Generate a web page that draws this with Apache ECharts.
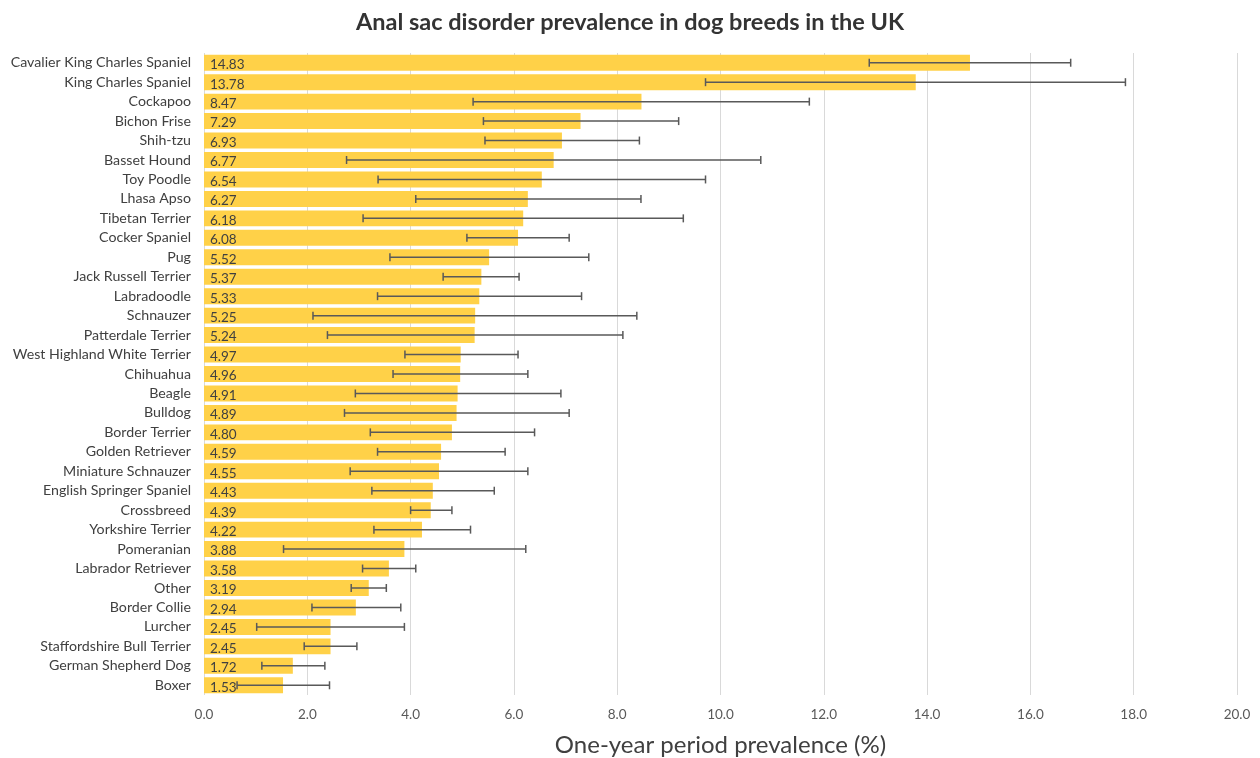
<!DOCTYPE html>
<html>
<head>
<meta charset="utf-8">
<script src="https://cdn.jsdelivr.net/npm/echarts@6/dist/echarts.min.js"></script>
<style>html,body{margin:0;padding:0;background:#fff}#c{width:1260px;height:758px}</style>
</head>
<body>
<div id="c"></div>
<script>
const categories = ["Cavalier King Charles Spaniel","King Charles Spaniel","Cockapoo","Bichon Frise","Shih-tzu","Basset Hound","Toy Poodle","Lhasa Apso","Tibetan Terrier","Cocker Spaniel","Pug","Jack Russell Terrier","Labradoodle","Schnauzer","Patterdale Terrier","West Highland White Terrier","Chihuahua","Beagle","Bulldog","Border Terrier","Golden Retriever","Miniature Schnauzer","English Springer Spaniel","Crossbreed","Yorkshire Terrier","Pomeranian","Labrador Retriever","Other","Border Collie","Lurcher","Staffordshire Bull Terrier","German Shepherd Dog","Boxer"];
const prevalence = [14.83,13.78,8.47,7.29,6.93,6.77,6.54,6.27,6.18,6.08,5.52,5.37,5.33,5.25,5.24,4.97,4.96,4.91,4.89,4.80,4.59,4.55,4.43,4.39,4.22,3.88,3.58,3.19,2.94,2.45,2.45,1.72,1.53];
const ciLower = [12.88,9.71,5.21,5.41,5.44,2.76,3.37,4.10,3.08,5.09,3.60,4.63,3.36,2.11,2.39,3.89,3.66,2.93,2.72,3.22,3.36,2.83,3.25,4.00,3.29,1.54,3.07,2.85,2.09,1.02,1.94,1.12,0.64];
const ciUpper = [16.78,17.84,11.72,9.19,8.43,10.78,9.71,8.46,9.28,7.07,7.45,6.10,7.31,8.38,8.11,6.08,6.27,6.91,7.07,6.40,5.83,6.27,5.62,4.80,5.16,6.23,4.10,3.53,3.81,3.88,2.96,2.34,2.43];
const xTicks = [0,2,4,6,8,10,12,14,16,18,20];

const font = 'Lato, "Open Sans", "Noto Sans", sans-serif';
const errData = categories.map((c, i) => [i, ciLower[i], ciUpper[i]]);

const chart = echarts.init(document.getElementById('c'));
chart.setOption({
  animation: false,
  backgroundColor: '#ffffff',
  title: {
    text: 'Anal sac disorder prevalence in dog breeds in the UK',
    left: 'center', top: 5,
    textStyle: { fontFamily: font, fontSize: 23.5, fontWeight: 'bold', color: '#333333' }
  },
  grid: { left: 204, right: 23, top: 53, bottom: 63, containLabel: false, outerBoundsMode: 'none' },
  xAxis: {
    type: 'value', min: xTicks[0], max: xTicks[xTicks.length - 1], interval: 2,
    name: 'One-year period prevalence (%)', nameLocation: 'middle', nameGap: 38,
    nameTextStyle: { fontFamily: font, fontSize: 24, color: '#404040' },
    axisLine: { show: false }, axisTick: { show: false },
    axisLabel: { fontFamily: font, fontSize: 13.5, color: '#595959', margin: 13,
      formatter: v => v.toFixed(1) },
    splitLine: { show: true, lineStyle: { color: '#d9d9d9', width: 1 } }
  },
  yAxis: {
    type: 'category', data: categories, inverse: true,
    axisLine: { show: false }, axisTick: { show: false },
    axisLabel: { fontFamily: font, fontSize: 14.2, color: '#404040', margin: 13 }
  },
  series: [
    {
      type: 'bar', data: prevalence, barCategoryGap: '18%',
      itemStyle: { color: '#FFD148' },
      label: { show: true, position: 'insideLeft', distance: 6, offset: [0, 2],
        fontFamily: font, fontSize: 13.5, color: '#404040',
        formatter: p => p.value.toFixed(2) }
    },
    {
      type: 'custom', data: errData, z: 10,
      renderItem: function (params, api) {
        const idx = api.value(0);
        const lo = api.coord([api.value(1), idx]);
        const hi = api.coord([api.value(2), idx]);
        const y = lo[1];
        const h = 4;
        const st = { stroke: '#595959', lineWidth: 1.5 };
        return { type: 'group', children: [
          { type: 'line', shape: { x1: lo[0], y1: y, x2: hi[0], y2: y }, style: st },
          { type: 'line', shape: { x1: lo[0], y1: y - h, x2: lo[0], y2: y + h }, style: st },
          { type: 'line', shape: { x1: hi[0], y1: y - h, x2: hi[0], y2: y + h }, style: st }
        ]};
      },
      encode: { x: [1, 2], y: 0 }
    }
  ]
});
</script>
</body>
</html>
